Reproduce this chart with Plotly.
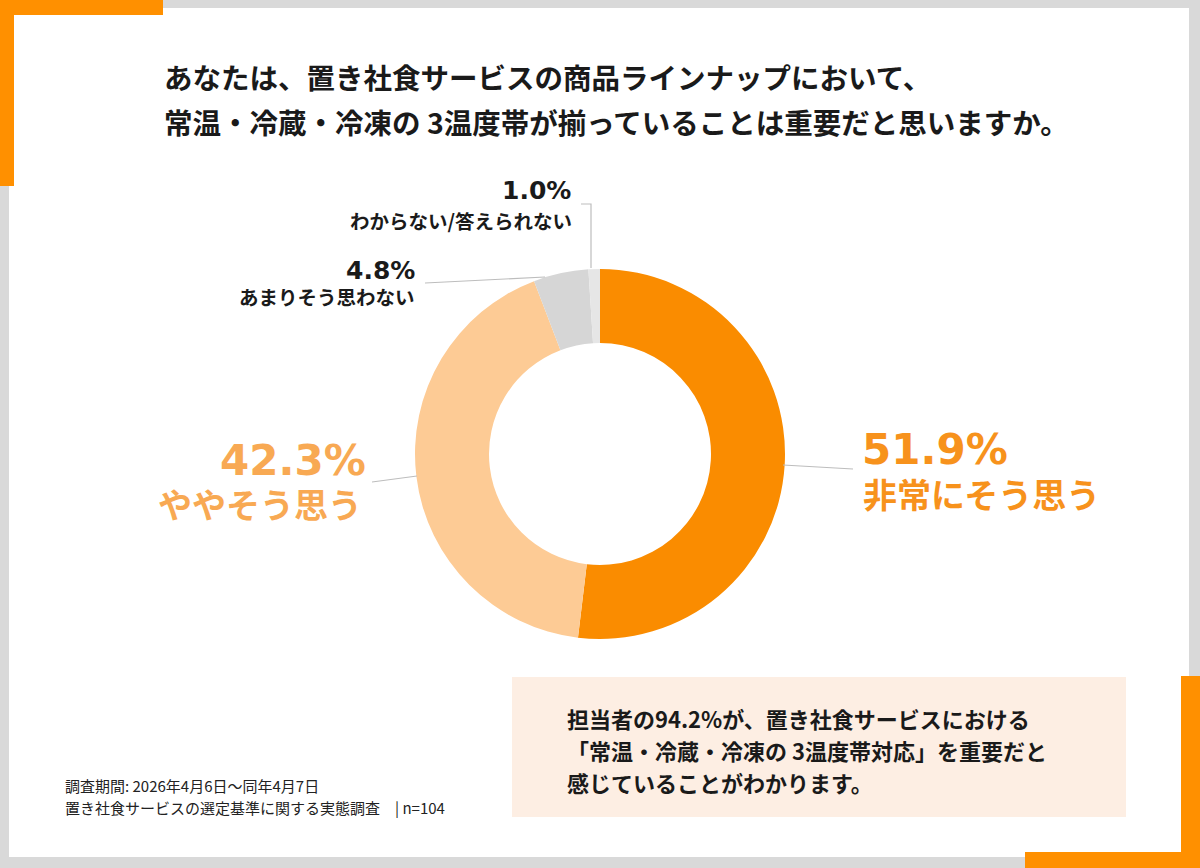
import plotly.graph_objects as go

# survey answers (clockwise from 12 o'clock)
answers = ["非常にそう思う", "ややそう思う", "あまりそう思わない", "わからない/答えられない"]
shares = [51.9, 42.3, 4.8, 1.0]
slice_colors = ["#FA8C00", "#FDCB95", "#D6D6D6", "#E6E6E6"]

title_lines = [
    "あなたは、置き社食サービスの商品ラインナップにおいて、",
    "常温・冷蔵・冷凍の 3温度帯が揃っていることは重要だと思いますか。",
]
note_lines = [
    "担当者の94.2%が、置き社食サービスにおける",
    "「常温・冷蔵・冷凍の 3温度帯対応」を重要だと",
    "感じていることがわかります。",
]
source_lines = [
    "調査期間: 2026年4月6日～同年4月7日",
    "置き社食サービスの選定基準に関する実態調査　| n=104",
]

W, H = 1200, 868
JP = "Noto Sans CJK JP"
NUM = "DejaVu Sans, Noto Sans CJK JP"

fig = go.Figure()

# invisible pixel-space axes for the frame and labels
fig.add_trace(go.Scatter(x=[0, W], y=[0, H], mode="markers",
                         marker=dict(opacity=0), hoverinfo="skip", showlegend=False))

cx, cy, r = 600, 454, 185
fig.add_trace(go.Pie(
    values=shares, labels=answers, sort=False, direction="clockwise",
    rotation=0, hole=0.6, textinfo="none", hoverinfo="label+percent",
    marker=dict(colors=slice_colors, line=dict(width=0)),
    domain=dict(x=[(cx - r) / W, (cx + r) / W], y=[1 - (cy + r) / H, 1 - (cy - r) / H]),
    showlegend=False,
))

shapes = []
grey, orange = "#D9D9D9", "#FF9000"
# outer frame
shapes += [
    dict(type="rect", x0=163, x1=W, y0=0, y1=8, fillcolor=grey, line_width=0),
    dict(type="rect", x0=0, x1=9, y0=186, y1=H, fillcolor=grey, line_width=0),
    dict(type="rect", x0=1189, x1=W, y0=0, y1=676, fillcolor=grey, line_width=0),
    dict(type="rect", x0=0, x1=1025, y0=857, y1=H, fillcolor=grey, line_width=0),
    dict(type="rect", x0=0, x1=163, y0=0, y1=15, fillcolor=orange, line_width=0),
    dict(type="rect", x0=0, x1=14, y0=0, y1=186, fillcolor=orange, line_width=0),
    dict(type="rect", x0=1181, x1=W, y0=676, y1=H, fillcolor=orange, line_width=0),
    dict(type="rect", x0=1025, x1=W, y0=852, y1=H, fillcolor=orange, line_width=0),
]
# summary box
shapes.append(dict(type="rect", x0=512, x1=1126, y0=677, y1=817,
                   fillcolor="#FDEEE3", line_width=0, layer="below"))
# leader lines
lc = dict(color="#BDBDBD", width=1.2)
shapes += [
    dict(type="line", x0=783, y0=465, x1=853, y1=469, line=lc),
    dict(type="line", x0=417, y0=476, x1=372, y1=482, line=lc),
    dict(type="line", x0=545, y0=277, x1=425, y1=283, line=lc),
    dict(type="path", path="M 591 268 L 591 204 L 581 204", line=lc),
]

ann = []
def text(x, y, s, size, color="#1A1A1A", anchor="left", family=JP, bold=True):
    ann.append(dict(x=x, y=y, xref="x", yref="y", text=f"<b>{s}</b>" if bold else s,
                    showarrow=False, xanchor=anchor, yanchor="middle",
                    font=dict(family=family, size=size, color=color)))

text(162, 76, title_lines[0], 28.5)
text(162, 121, title_lines[1], 28.5)

text(1010, 449, f"{shares[0]}%", 42, "#F7921C", "right", NUM)
text(861, 493, answers[0], 34, "#F7921C")
text(368, 460, f"{shares[1]}%", 42, "#F8A953", "right", NUM)
text(364, 503, answers[1], 34, "#F8A953", "right")
text(417, 270, f"{shares[2]}%", 25, anchor="right", family=NUM)
text(417, 296, answers[2], 19.5, anchor="right")
text(573, 190, f"{shares[3]}%", 25, anchor="right", family=NUM)
text(574, 220, answers[3], 19.5, anchor="right")

for i, s in enumerate(note_lines):
    text(565, 718 + i * 32, s, 22)
for i, s in enumerate(source_lines):
    text(63, 785 + i * 22, s, 15, "#222222", bold=False)

fig.update_layout(
    width=W, height=H, margin=dict(l=0, r=0, t=0, b=0),
    paper_bgcolor="white", plot_bgcolor="white",
    xaxis=dict(range=[0, W], visible=False, fixedrange=True),
    yaxis=dict(range=[H, 0], visible=False, fixedrange=True),
    shapes=shapes, annotations=ann,
)

fig.write_html("out.html", config={"displayModeBar": False},
               post_script="document.body.style.margin='0';")
